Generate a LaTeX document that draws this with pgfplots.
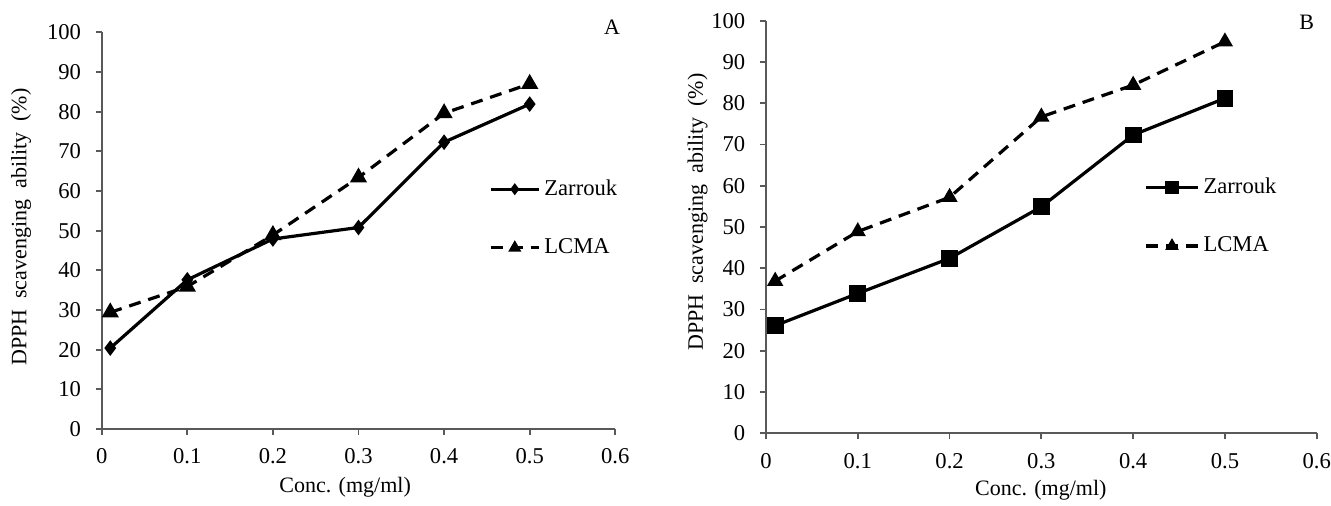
\documentclass[border=0pt]{standalone}
\usepackage{fontspec}
\setmainfont{Liberation Serif}
\usepackage{pgfplots}
\pgfplotsset{compat=1.18}
\definecolor{axisgray}{RGB}{89,89,89}

\pgfplotsset{
  dpph/.style={
    scale only axis,
    axis lines*=left,
    clip=false,
    xmin=0, xmax=0.6, ymin=0, ymax=100,
    xtick={0,0.1,0.2,0.3,0.4,0.5,0.6},
    xticklabels={0,0.1,0.2,0.3,0.4,0.5,0.6},
    ytick={0,10,20,30,40,50,60,70,80,90,100},
    /pgf/number format/assume math mode=true,
    tick align=outside,
    major tick length=3pt,
    every tick/.style={axisgray, line width=0.9pt},
    axis line style={axisgray, line width=0.9pt},
    tick label style={font=\fontsize{11.3}{13}\selectfont},
    xticklabel style={yshift=-3pt},
    yticklabel style={xshift=-3.5pt},
    label style={font=\fontsize{11}{13}\selectfont},
    xlabel={Conc. (mg/ml)},
    ylabel={DPPH\ \ scavenging\ \ ability\ \ (\%)},
    legend style={draw=none, fill=none, row sep=16pt,
      font=\fontsize{11.3}{13}\selectfont},
    legend cell align=left,
  },
  zarrouk/.style={black, line width=1.6pt, mark=#1,
    mark options={solid, fill=black}},
  lcma/.style={black, line width=1.6pt, dash pattern=on 6pt off 4pt,
    mark=triangle*, mark options={solid, fill=black}},
}

\pgfplotstableread{
x     zarrouk lcma
0.01  20.4    29.4
0.1   37.6    35.9
0.2   47.9    48.9
0.3   50.8    63.4
0.4   72.3    79.6
0.5   81.9    87.0
}\dataA

\pgfplotstableread{
x     zarrouk lcma
0.01  26.1    36.9
0.1   33.9    48.9
0.2   42.4    57.2
0.3   54.9    76.7
0.4   72.3    84.4
0.5   81.2    94.9
}\dataB

\begin{document}
\fontsize{11}{13}\selectfont
\begin{tikzpicture}
\useasboundingbox (0,0) rectangle (665.5pt,252.5pt);

% panel A
\begin{axis}[dpph,
  at={(50.85pt,38pt)}, anchor=south west,
  width=256.8pt, height=198.35pt,
  xlabel style={at={(axis description cs:0.474,-0.146)}, anchor=center},
  ylabel style={at={(axis description cs:-0.157,0.509)}, anchor=center, rotate=0},
  legend style={at={(axis description cs:0.742,0.531)}, anchor=west},
  legend image code/.code={%
    \draw[mark repeat=2, mark phase=2, #1, every mark/.append style={scale=0.65}]
      plot coordinates {(0pt,0pt) (12pt,0pt) (24pt,0pt)};},
]
  \addplot[zarrouk={diamond*}, mark size=2.6pt] table[x=x, y=zarrouk] {\dataA};
  \addlegendentry{Zarrouk}
  \addplot[lcma, mark size=3.4pt] table[x=x, y=lcma] {\dataA};
  \addlegendentry{LCMA}
  \node at (axis description cs:0.9936,1.013) {A};
\end{axis}

% panel B
\begin{axis}[dpph,
  at={(383pt,35.85pt)}, anchor=south west,
  width=275.35pt, height=206.3pt,
  xlabel style={at={(axis description cs:0.499,-0.137)}, anchor=center},
  ylabel style={at={(axis description cs:-0.124,0.536)}, anchor=center, rotate=0},
  legend style={at={(axis description cs:0.6755,0.5255)}, anchor=west},
  legend image code/.code={%
    \draw[mark repeat=2, mark phase=2, #1, every mark/.append style={scale=0.75}]
      plot coordinates {(0pt,0pt) (13pt,0pt) (26pt,0pt)};},
]
  \addplot[zarrouk={square*}, mark size=3.4pt] table[x=x, y=zarrouk] {\dataB};
  \addlegendentry{Zarrouk}
  \addplot[lcma, mark size=3.1pt] table[x=x, y=lcma] {\dataB};
  \addlegendentry{LCMA}
  \node at (axis description cs:0.982,0.997) {B};
\end{axis}
\end{tikzpicture}
\end{document}
